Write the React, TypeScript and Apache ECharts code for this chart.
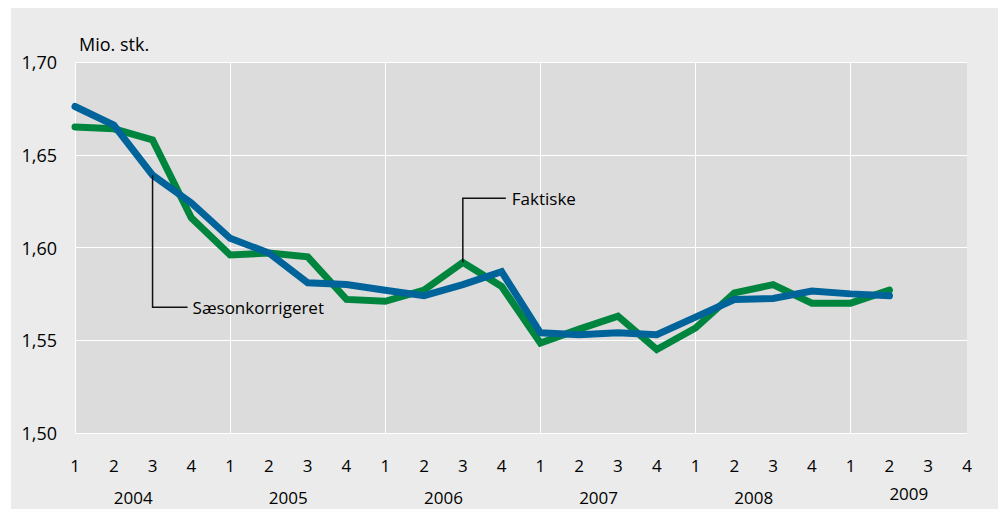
import React, { useEffect, useRef } from "react";
import * as echarts from "echarts";

const quarterLabels = ["1", "2", "3", "4", "1", "2", "3", "4", "1", "2", "3", "4", "1", "2", "3", "4", "1", "2", "3", "4", "1", "2", "3", "4"];
const years = ["2004", "2005", "2006", "2007", "2008", "2009"];
const faktiske = [1.665, 1.664, 1.658, 1.616, 1.596, 1.597, 1.595, 1.572, 1.571, 1.577, 1.592, 1.579, 1.5485, 1.556, 1.563, 1.545, 1.5566, 1.5755, 1.58, 1.570, 1.570, 1.577];
const saeson = [1.676, 1.666, 1.639, 1.624, 1.605, 1.597, 1.581, 1.580, 1.577, 1.574, 1.580, 1.587, 1.554, 1.553, 1.554, 1.553, 1.5625, 1.572, 1.5725, 1.5765, 1.575, 1.574];
const yTicks = [1.5, 1.55, 1.6, 1.65, 1.7];

const FONT = "'Open Sans', sans-serif";
const GREEN = "#00853f";
const BLUE = "#00639a";
const TXT = "#000000";

export default function App() {
  const ref = useRef<HTMLDivElement>(null);
  useEffect(() => {
    document.body.style.margin = "0";
    const chart = echarts.init(ref.current!, null, { renderer: "svg" });
    chart.setOption({
      animation: false,
      backgroundColor: "transparent",
      grid: { left: 75, top: 62, right: 31, bottom: 76, show: true, backgroundColor: "#dcdcdc", borderWidth: 0 },
      xAxis: {
        type: "category",
        data: quarterLabels,
        boundaryGap: false,
        axisLine: { show: false },
        axisTick: { show: false },
        axisLabel: { interval: 0, color: TXT, fontFamily: FONT, fontSize: 17, margin: 24 },
        splitLine: { show: true, interval: (i: number) => i % 4 === 0, lineStyle: { color: "#ffffff", width: 1 } },
      },
      yAxis: {
        type: "value",
        min: yTicks[0],
        max: yTicks[yTicks.length - 1],
        interval: 0.05,
        axisLine: { show: false },
        axisTick: { show: false },
        axisLabel: {
          color: TXT,
          fontFamily: FONT,
          fontSize: 18,
          margin: 18,
          formatter: (v: number) => v.toFixed(2).replace(".", ","),
        },
        splitLine: { show: true, lineStyle: { color: "#ffffff", width: 1 } },
      },
      series: [
        {
          name: "Faktiske",
          type: "line",
          data: faktiske,
          symbol: "none",
          lineStyle: { color: GREEN, width: 7, cap: "round", join: "miter" },
        },
        {
          name: "Sæsonkorrigeret",
          type: "line",
          data: saeson,
          symbol: "none",
          lineStyle: { color: BLUE, width: 7, cap: "round", join: "miter" },
        },
      ],
    });

    const px = (i: number, v: number) => chart.convertToPixel({ gridIndex: 0 }, [i, v]) as number[];
    const graphics: any[] = [];
    graphics.push({
      type: "text",
      x: 79,
      y: 44,
      style: { text: "Mio. stk.", fill: TXT, font: `18px ${FONT}`, verticalAlign: "middle" },
    });
    years.forEach((y, k) => {
      const a = px(4 * k + 1, yTicks[0]);
      const b = px(4 * k + 2, yTicks[0]);
      graphics.push({
        type: "text",
        x: (a[0] + b[0]) / 2,
        y: a[1] + (k === years.length - 1 ? 60 : 64),
        style: { text: y, fill: TXT, font: `17px ${FONT}`, align: "center", verticalAlign: "middle" },
      });
    });
    // Sæsonkorrigeret annotation
    const sa = px(2, saeson[2]);
    graphics.push({
      type: "polyline",
      shape: { points: [[sa[0], sa[1]], [sa[0], sa[1] + 132], [sa[0] + 35, sa[1] + 132]] },
      style: { stroke: "#111", lineWidth: 1.5, fill: "none" },
      z: 10,
    });
    graphics.push({
      type: "text",
      x: sa[0] + 40,
      y: sa[1] + 132,
      style: { text: "Sæsonkorrigeret", fill: TXT, font: `17px ${FONT}`, verticalAlign: "middle" },
      z: 10,
    });
    // Faktiske annotation
    const fa = px(10, faktiske[10]);
    graphics.push({
      type: "polyline",
      shape: { points: [[fa[0], fa[1]], [fa[0], fa[1] - 64], [fa[0] + 43, fa[1] - 64]] },
      style: { stroke: "#111", lineWidth: 1.5, fill: "none" },
      z: 10,
    });
    graphics.push({
      type: "text",
      x: fa[0] + 49,
      y: fa[1] - 64,
      style: { text: "Faktiske", fill: TXT, font: `17px ${FONT}`, verticalAlign: "middle" },
      z: 10,
    });
    chart.setOption({ graphic: graphics });
    return () => chart.dispose();
  }, []);

  return (
    <div style={{ position: "relative", width: 998, height: 509, background: "#ffffff", overflow: "hidden" }}>
      <div style={{ position: "absolute", left: 11, top: 8, width: 987, height: 501, background: "#ebebeb" }} />
      <div ref={ref} style={{ position: "absolute", left: 0, top: 0, width: 998, height: 509 }} />
    </div>
  );
}
